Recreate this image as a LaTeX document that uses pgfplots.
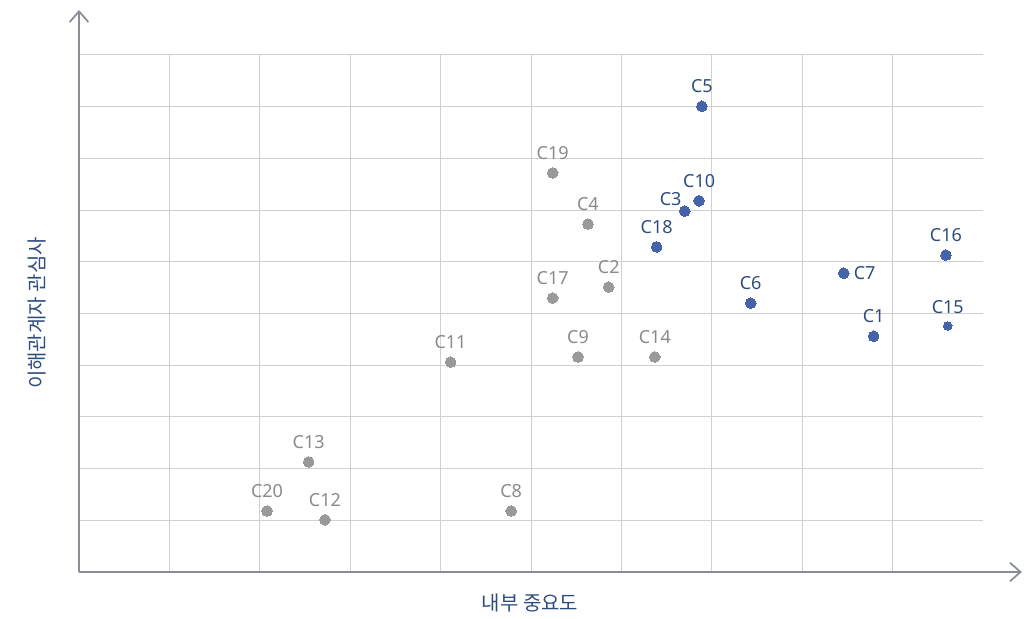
\documentclass[border=0pt]{standalone}
\usepackage{pgfplots}
\pgfplotsset{compat=1.18}
\usepackage{pgfplotstable}
\usepackage{fontspec}
\setmainfont{Noto Sans}
\newfontfamily\kr{Noto Sans CJK KR}
\usetikzlibrary{arrows.meta}
\definecolor{ptblue}{HTML}{4563A8}
\definecolor{lblblue}{HTML}{2E4D7E}
\definecolor{ptgrey}{HTML}{999999}
\definecolor{lblgrey}{HTML}{8A8A8A}
\definecolor{axgrey}{HTML}{8A8D96}
\definecolor{gridgrey}{HTML}{D0D0D0}

\pgfplotstableread{
x y label
5.24 7.72 C19
5.63 6.73 C4
5.86 5.51 C2
5.24 5.30 C17
5.52 4.16 C9
6.37 4.16 C14
4.11 4.06 C11
2.54 2.13 C13
2.08 1.18 C20
4.78 1.18 C8
2.72 1.01 C12
}\greydata

\pgfplotstableread{
x y label
6.89 9.01 C5
6.86 7.18 C10
6.39 6.29 C18
9.59 6.13 C16
7.43 5.20 C6
8.79 4.56 C1
}\bluedata

\pgfplotstableread{
x y label
9.61 4.76 C15
}\bluesmall

\pgfplotstableread{
x y label
8.46 5.78 C7
}\blueright

\pgfplotstableread{
x y label
6.70 6.98 C3
}\blueleft

\begin{document}
\begin{tikzpicture}
\begin{axis}[
  at={(0,0)}, anchor=south west,
  scale only axis,
  width=678pt, height=387.75pt,
  xmin=0, xmax=10, ymin=0, ymax=10,
  clip=false,
  xtick={1,...,9}, ytick={1,...,10},
  xticklabels={}, yticklabels={},
  grid=major,
  major grid style={draw=gridgrey, line width=0.75pt},
  axis line style={draw=none},
  tick style={draw=none},
  nodes near coords,
  point meta=explicit symbolic,
  every node near coord/.append style={font=\fontsize{13.5}{15}\selectfont, inner sep=0pt},
]
\draw[axgrey, line width=1.5pt, -{Straight Barb[length=8pt, width=14pt, line width=1.3pt]}] (axis cs:0,0) -- (axis cs:10.43,0);
\draw[axgrey, line width=1.5pt, -{Straight Barb[length=8pt, width=14pt, line width=1.3pt]}] (axis cs:0,0) -- (axis cs:0,10.87);

\addplot[only marks, color=ptgrey, mark=*, mark size=4pt, mark options={draw=ptgrey, fill=ptgrey, line width=0pt},
  every node near coord/.append style={text=lblgrey, anchor=center, yshift=15pt}]
  table[x=x, y=y, meta=label] {\greydata};
\addplot[only marks, color=ptblue, mark=*, mark size=4pt, mark options={draw=ptblue, fill=ptblue, line width=0pt},
  every node near coord/.append style={text=lblblue, anchor=center, yshift=15pt}]
  table[x=x, y=y, meta=label] {\bluedata};
\addplot[only marks, color=ptblue, mark=*, mark size=3.2pt, mark options={draw=ptblue, fill=ptblue, line width=0pt},
  every node near coord/.append style={text=lblblue, anchor=center, yshift=14.5pt}]
  table[x=x, y=y, meta=label] {\bluesmall};
\addplot[only marks, color=ptblue, mark=*, mark size=4pt, mark options={draw=ptblue, fill=ptblue, line width=0pt},
  every node near coord/.append style={text=lblblue, anchor=west, xshift=7.5pt}]
  table[x=x, y=y, meta=label] {\blueright};
\addplot[only marks, color=ptblue, mark=*, mark size=4pt, mark options={draw=ptblue, fill=ptblue, line width=0pt},
  every node near coord/.append style={text=lblblue, anchor=center, xshift=-10.5pt, yshift=9pt}]
  table[x=x, y=y, meta=label] {\blueleft};
\end{axis}
\node[text=lblblue, font=\kr\fontsize{15}{17}\selectfont, anchor=center] at (338.25pt,-23.25pt) {내부 중요도};
\node[text=lblblue, font=\kr\fontsize{15}{17}\selectfont, anchor=center, rotate=90] at (-31.5pt,194.25pt) {이해관계자 관심사};
\path (-59.25pt,-34.5pt) rectangle (714.75pt,429pt);
\end{tikzpicture}
\end{document}
